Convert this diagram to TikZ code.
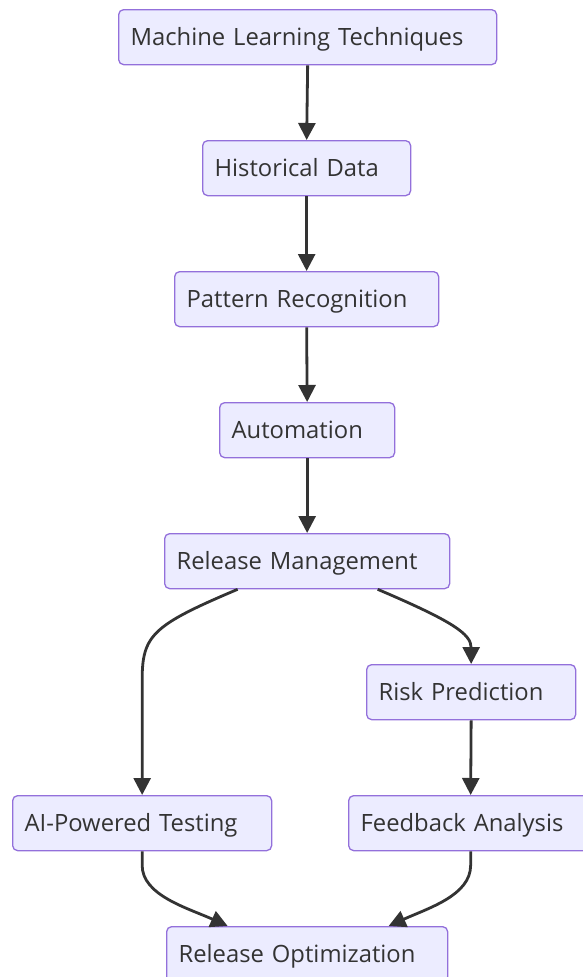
\documentclass[tikz,border=0pt]{standalone}
\usepackage{fontspec}
\setmainfont{Open Sans}
\usetikzlibrary{arrows.meta}
\definecolor{boxfill}{HTML}{ECECFF}
\definecolor{boxline}{HTML}{9370DB}
\definecolor{ink}{HTML}{333333}
\begin{document}
\begin{tikzpicture}[x=1pt,y=-1pt,
  flowbox/.style={draw=boxline, fill=boxfill, line width=1.3pt, rounded corners=5pt,
    minimum height=55pt, inner xsep=12pt, inner ysep=0pt, align=left,
    text height=22pt, text depth=5pt,
    anchor=north west, text=ink, font=\fontsize{23.8}{28}\selectfont},
  link/.style={draw=ink, line width=2.8pt, -{Triangle[length=17pt,width=17pt]}}]
\useasboundingbox (0,0) rectangle (582,977);

% boxes: position = top-left corner, text width = box width - 24
\node[flowbox, text width=354pt] (ml)   at (118,9)   {Machine Learning Techniques};
\node[flowbox, text width=184pt] (hist) at (202,140) {Historical Data};
\node[flowbox, text width=240pt] (pat)  at (174,271) {Pattern Recognition};
\node[flowbox, text width=151pt] (auto) at (219,402) {Automation};
\node[flowbox, text width=261pt] (rel)  at (164,533) {Release Management};
\node[flowbox, text width=185pt] (risk) at (366,664) {Risk Prediction};
\node[flowbox, text width=235pt] (ai)   at (12,795)  {AI-Powered Testing};
\node[flowbox, text width=222pt] (feed) at (348,795) {Feedback Analysis};
\node[flowbox, text width=257pt] (opt)  at (166,926) {Release Optimization};

% main chain
\draw[link] (ml.south)   -- (hist.north);
\draw[link] (hist.south) -- (pat.north);
\draw[link] (pat.south)  -- (auto.north);
\draw[link] (auto.south) -- (rel.north);

% split after release management
\draw[link] ([xshift=-69.5pt]rel.south) .. controls +(-85,36) and +(0,-45) ..
  ([yshift=115pt]ai.north) -- (ai.north);
\draw[link] ([xshift=70.5pt]rel.south) .. controls +(75,32) and +(0,-30) .. (risk.north);
\draw[link] (risk.south) -- ([xshift=-0.5pt]risk.south |- feed.north);

% merge into optimization
\draw[link] (ai.south) -- ++(0,14) .. controls +(0,30) and +(-40,-18) .. ([xshift=-79.5pt]opt.north);
\draw[link] ([xshift=-0.5pt]risk.south |- feed.south) -- ++(0,14) .. controls +(0,30) and +(40,-18) .. ([xshift=81.5pt]opt.north);
\end{tikzpicture}
\end{document}
